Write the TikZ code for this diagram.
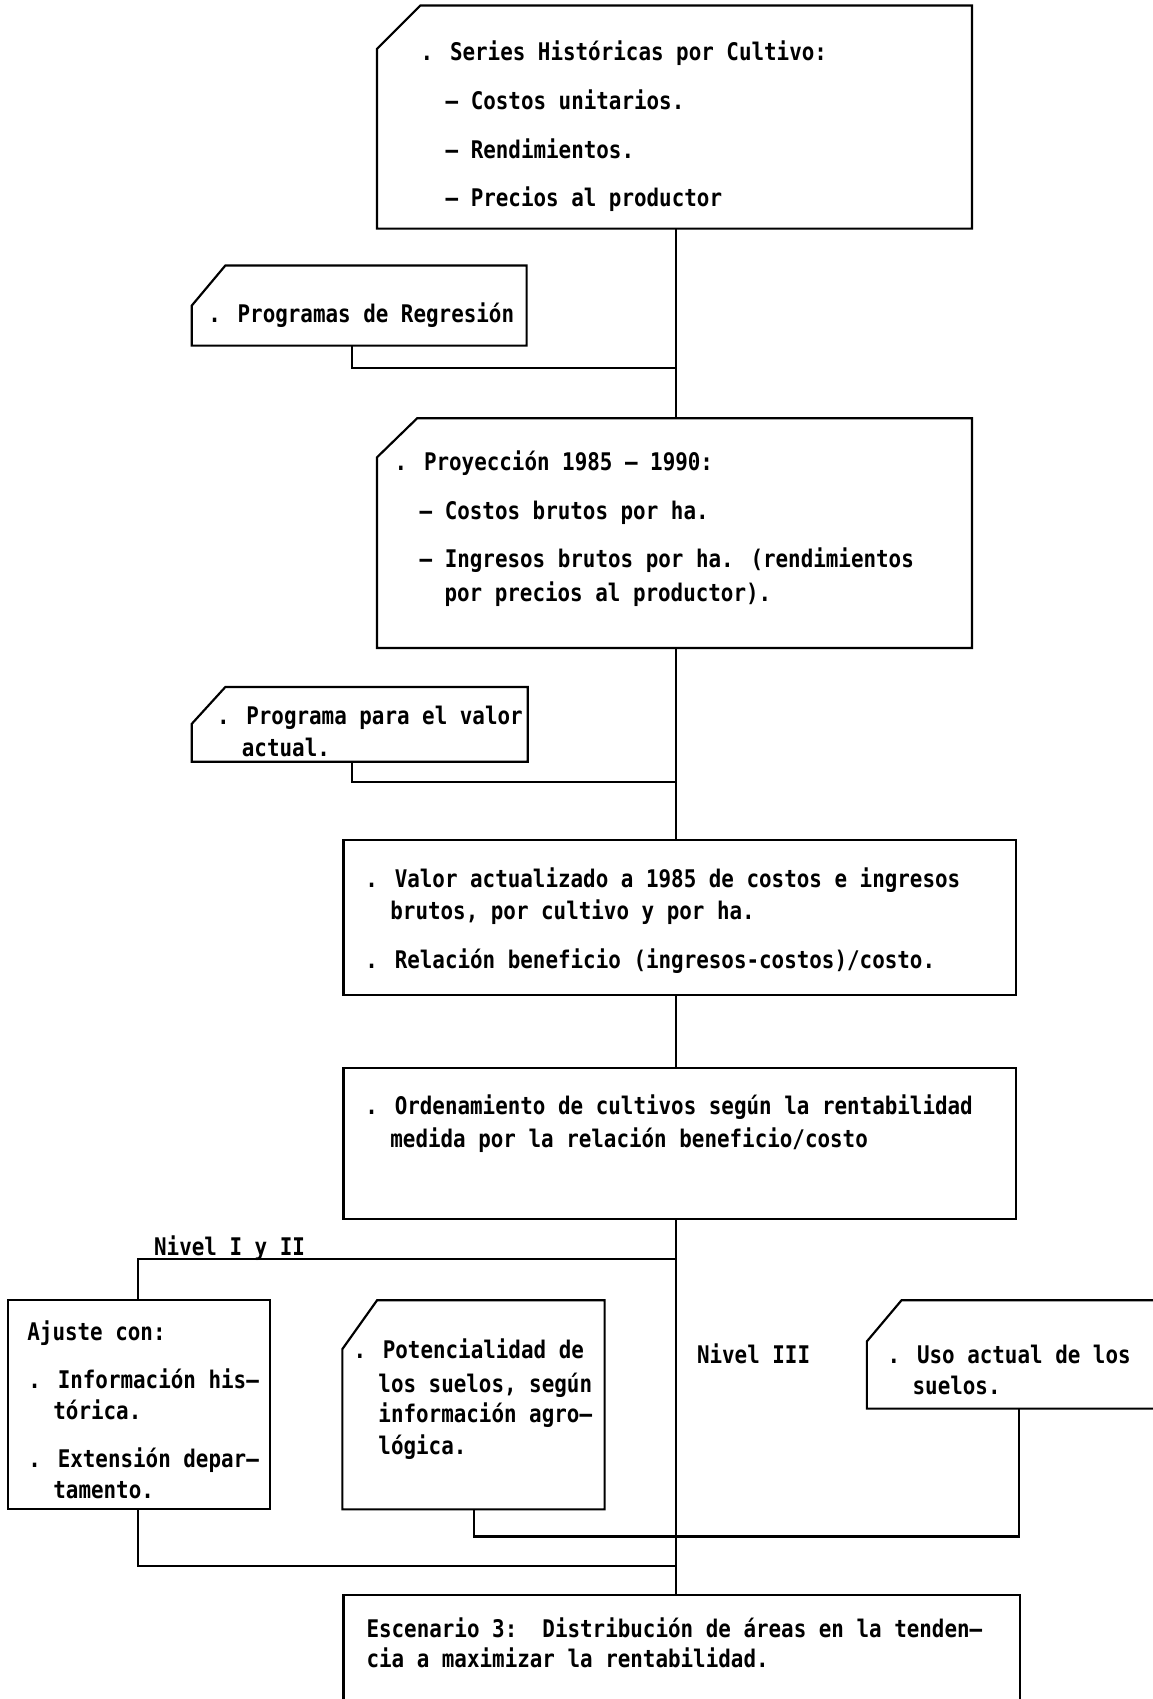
\documentclass[tikz,border=0pt]{standalone}
\usepackage{fontspec}
\newfontfamily\tw{DejaVu Sans Mono}[FakeStretch=0.86]
\usetikzlibrary{calc}
\tikzset{
  ln/.style={line width=1.5pt, line join=miter},
  wire/.style={line width=1.4pt},
  frame/.style n args={2}{minimum width=#1*0.75pt, minimum height=#2*0.75pt,
    inner sep=0pt, outer sep=0pt, anchor=north west},
  txt/.style={anchor=base west, inner sep=0pt,
    font=\tw\bfseries\fontsize{16.8pt}{20pt}\selectfont},
}
\begin{document}
\begin{tikzpicture}[x=0.75pt,y=-0.75pt]
\useasboundingbox (0,0) rectangle (1064,1568);
\fill[white] (0,0) rectangle (1064,1568);
\coordinate (spine) at (624,0);

% --- series historicas
\node[frame={549}{206}] (b1) at (348,5) {};
\draw[ln] ($(b1.north west)+(0,40)$) -- ($(b1.north west)+(40,0)$) -- (b1.north east)
  -- (b1.south east) -- (b1.south west) -- cycle;
\node[txt] (b1a) at (388,56)  {. Series Históricas por Cultivo:};
\node[txt] (b1b) at (411,101) {– Costos unitarios.};
\node[txt] (b1c) at (411,146) {– Rendimientos.};
\node[txt] (b1d) at (411,191) {– Precios al productor};

% --- programas de regresion
\node[frame={309}{74}] (b2) at (177,245) {};
\draw[ln] ($(b2.north west)+(0,37)$) -- ($(b2.north west)+(31,0)$) -- (b2.north east)
  -- (b2.south east) -- (b2.south west) -- cycle;
\node[txt] (b2a) at (192,298) {. Programas de Regresión};

% --- proyeccion
\node[frame={549}{212}] (b3) at (348,386) {};
\draw[ln] ($(b3.north west)+(0,36)$) -- ($(b3.north west)+(37,0)$) -- (b3.north east)
  -- (b3.south east) -- (b3.south west) -- cycle;
\node[txt] (b3a) at (364,434) {. Proyección 1985 – 1990:};
\node[txt] (b3b) at (387,479) {– Costos brutos por ha.};
\node[txt] (b3c) at (387,524) {– Ingresos brutos por ha. (rendimientos};
\node[txt] (b3d) at (410,555) {por precios al productor).};

% --- programa para el valor actual
\node[frame={310}{69}] (b4) at (177,634) {};
\draw[ln] ($(b4.north west)+(0,34)$) -- ($(b4.north west)+(31,0)$) -- (b4.north east)
  -- (b4.south east) -- (b4.south west) -- cycle;
\node[txt] (b4a) at (200,669) {. Programa para el valor};
\node[txt] (b4b) at (223,698) {actual.};

% --- valor actualizado
\node[frame={621}{143}, draw, ln] (b5) at (317,775) {};
\node[txt] (b5a) at (337,819) {. Valor actualizado a 1985 de costos e ingresos};
\node[txt] (b5b) at (360,849) {brutos, por cultivo y por ha.};
\node[txt] (b5c) at (337,894) {. Relación beneficio (ingresos-costos)/costo.};

% --- ordenamiento
\node[frame={621}{139}, draw, ln] (b6) at (317,986) {};
\node[txt] (b6a) at (337,1029) {. Ordenamiento de cultivos según la rentabilidad};
\node[txt] (b6b) at (360,1059) {medida por la relación beneficio/costo};

% --- ajuste
\node[frame={242}{193}, draw, ln] (aj) at (7,1200) {};
\node[txt] (aja) at (25,1237)  {Ajuste con:};
\node[txt] (ajb) at (26,1281)  {. Información his–};
\node[txt] (ajc) at (49,1310)  {tórica.};
\node[txt] (ajd) at (26,1354)  {. Extensión depar–};
\node[txt] (aje) at (49,1383)  {tamento.};

% --- potencialidad
\node[frame={242}{193}] (pot) at (316,1200) {};
\draw[ln] ($(pot.north west)+(0,45)$) -- ($(pot.north west)+(32,0)$) -- (pot.north east)
  -- (pot.south east) -- (pot.south west) -- cycle;
\node[txt] (pota) at (326,1254) {. Potencialidad de};
\node[txt] (potb) at (349,1285) {los suelos, según};
\node[txt] (potc) at (349,1313) {información agro–};
\node[txt] (potd) at (349,1342) {lógica.};

% --- uso actual (open to the right)
\node[frame={264}{100}] (uso) at (800,1200) {};
\draw[ln] (uso.north east) -- ($(uso.north west)+(32,0)$) -- ($(uso.north west)+(0,38)$)
  -- (uso.south west) -- (uso.south east);
\node[txt] (usoa) at (819,1258) {. Uso actual de los};
\node[txt] (usob) at (842,1287) {suelos.};

% --- escenario 3 (open at the bottom)
\node[frame={624}{96}] (b9) at (317,1472) {};
\draw[ln] (b9.south west) -- (b9.north west) -- (b9.north east) -- (b9.south east);
\node[txt] (b9a) at (338,1511) {Escenario 3:\ \ Distribución de áreas en la tenden–};
\node[txt] (b9b) at (338,1539) {cia a maximizar la rentabilidad.};

% --- level labels
\node[txt] (n12) at (142,1159) {Nivel I y II};
\node[txt] (n3)  at (643,1258) {Nivel III};

% --- connectors
\coordinate (k2) at (325,340);
\coordinate (k4) at (325,722);
\coordinate (k12) at (127,1162);
\coordinate (kaj) at (127,1445);
\coordinate (kp) at (437,1418);
\coordinate (ku) at (940,1418);
\draw[wire] (b1.south -| spine) -- (b3.north -| spine);
\draw[wire] (b2.south -| k2) -- (k2) -- (k2 -| spine);
\draw[wire] (b3.south -| spine) -- (b5.north -| spine);
\draw[wire] (b4.south -| k4) -- (k4) -- (k4 -| spine);
\draw[wire] (b5.south -| spine) -- (b6.north -| spine);
\draw[wire] (b6.south -| spine) -- (b9.north -| spine);
\draw[wire] (k12 -| spine) -- (k12) -- (aj.north -| k12);
\draw[wire] (aj.south -| kaj) -- (kaj) -- (kaj -| spine);
\draw[wire] (pot.south -| kp) -- (kp) -- (ku) -- (uso.south -| ku);
\end{tikzpicture}
\end{document}
